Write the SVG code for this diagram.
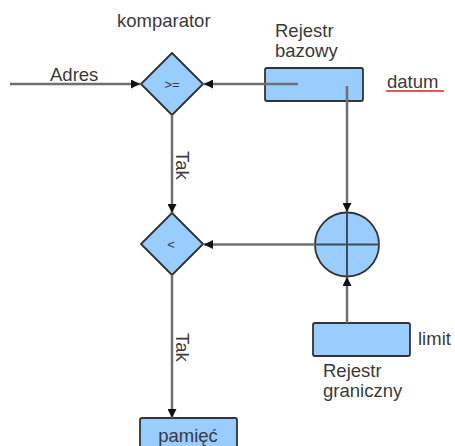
<svg xmlns="http://www.w3.org/2000/svg" width="455" height="446" viewBox="0 0 455 446">
<defs>
<marker id="arr" markerUnits="userSpaceOnUse" markerWidth="10" markerHeight="9" refX="9" refY="4.5" orient="auto">
<path d="M0,0 L9,4.5 L0,9 Z" fill="#111"/>
</marker>
<style>
.shape{fill:#99ccff;stroke:#333;stroke-width:1.8;stroke-linejoin:round}
.conn{fill:none;stroke:#707070;stroke-width:2.5}
.t{font-family:"Liberation Sans",Arial,sans-serif;font-size:18.5px;fill:#3a3a3a}
.s{font-family:"Liberation Sans",Arial,sans-serif;font-size:13px;fill:#3a3a3a}
</style>
</defs>
<rect width="455" height="446" fill="#fff"/>

<g id="komparator">
<polygon class="shape" points="172,53 203,84 172,115 141,84"/>
<text class="s" x="172" y="89" text-anchor="middle">&gt;=</text>
<text class="t" x="117" y="27">komparator</text>
</g>

<g id="rejestr-bazowy">
<rect class="shape" x="265" y="68" width="98" height="33" rx="2"/>
<text class="t" x="275" y="37">Rejestr</text>
<text class="t" x="275" y="57">bazowy</text>
</g>

<g id="datum">
<text class="t" x="387" y="88">datum</text>
<line x1="386" y1="91" x2="444" y2="91" stroke="#e02020" stroke-width="1.6"/>
</g>

<g id="mniejsze">
<polygon class="shape" points="172,213 203,244 172,275 141,244"/>
<text class="s" x="171" y="249" text-anchor="middle">&lt;</text>
</g>

<g id="sumator">
<circle class="shape" cx="347" cy="244.5" r="32"/>
<line x1="315" y1="244.5" x2="379" y2="244.5" stroke="#3c4a5a" stroke-width="2"/>
<line x1="347" y1="212.5" x2="347" y2="276.5" stroke="#3c4a5a" stroke-width="2"/>
</g>

<g id="rejestr-graniczny">
<rect class="shape" x="313" y="323" width="97" height="33" rx="2"/>
<text class="t" x="418" y="345">limit</text>
<text class="t" x="323" y="377">Rejestr</text>
<text class="t" x="323" y="397">graniczny</text>
</g>

<g id="pamiec">
<rect class="shape" x="140" y="418" width="97" height="40" rx="2"/>
<text class="t" x="188" y="442" text-anchor="middle">pamięć</text>
</g>

<g id="connectors">
<line class="conn" x1="10" y1="84" x2="140" y2="84" marker-end="url(#arr)"/>
<text class="t" x="50" y="81">Adres</text>
<line class="conn" x1="298" y1="84" x2="204" y2="84" stroke="#5a5f66" marker-end="url(#arr)"/>
<line class="conn" x1="347" y1="86" x2="347" y2="212" marker-end="url(#arr)"/>
<line class="conn" x1="172" y1="115" x2="172" y2="213" marker-end="url(#arr)"/>
<text class="t" transform="translate(176,151) rotate(90)">Tak</text>
<line class="conn" x1="315" y1="244.5" x2="204" y2="244.5" marker-end="url(#arr)"/>
<line class="conn" x1="347" y1="323" x2="347" y2="277" marker-end="url(#arr)"/>
<line class="conn" x1="172" y1="275" x2="172" y2="418" marker-end="url(#arr)"/>
<text class="t" transform="translate(176,333) rotate(90)">Tak</text>
</g>
</svg>
